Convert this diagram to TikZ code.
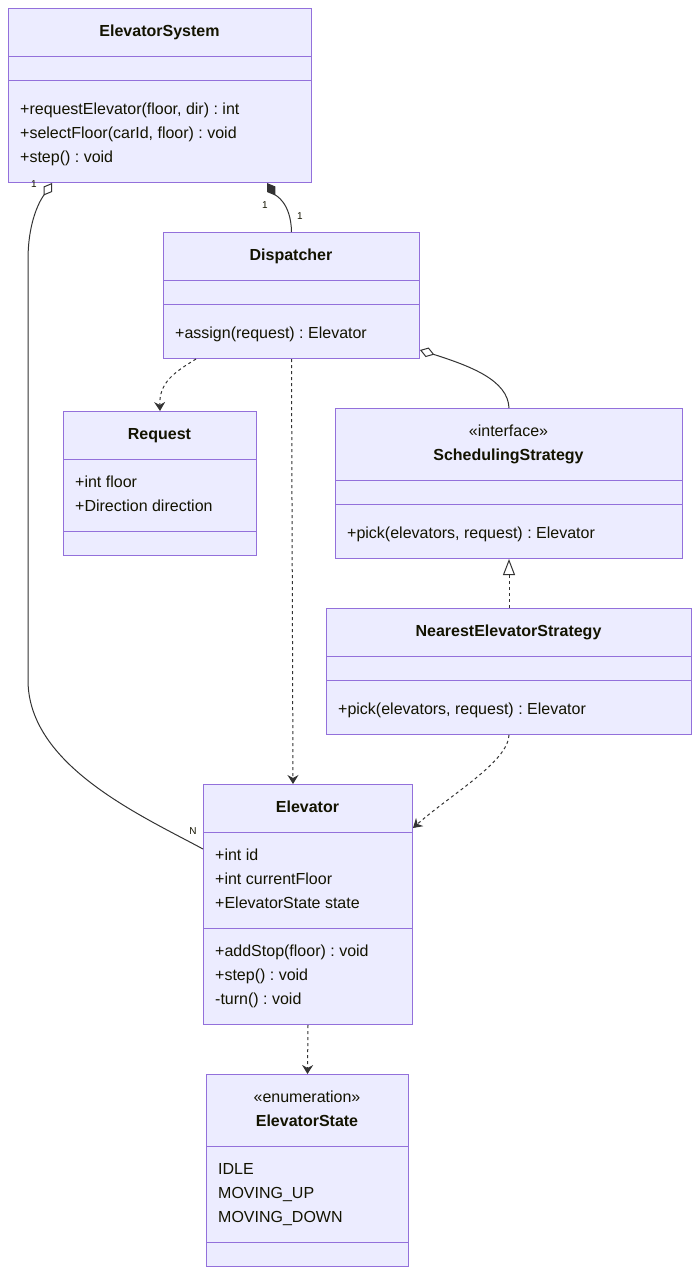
\documentclass[tikz,border=0pt]{standalone}
\usepackage{fontspec}
\setmainfont{Liberation Sans}
\usetikzlibrary{arrows.meta,positioning}
\definecolor{umlfill}{HTML}{ECECFF}
\definecolor{umlborder}{HTML}{9370DB}
\definecolor{umlline}{HTML}{333333}
\definecolor{umltext}{HTML}{131300}
\frenchspacing
\tikzset{
  classbox/.style={draw=umlborder, fill=umlfill, line width=1pt, inner sep=0pt, anchor=north west},
  divider/.style={draw=umlborder, line width=1pt},
  title/.style={font=\fontsize{16}{19}\selectfont\bfseries, text=umltext, inner sep=0pt,
    text height=12pt, text depth=3.5pt, yshift=-1.5pt},
  stereo/.style={text=umltext, inner sep=0pt, text height=12pt, text depth=3.5pt, yshift=-1.5pt},
  member/.style={anchor=west, text=umltext, inner sep=0pt, text height=12pt, text depth=3.5pt, yshift=-1.5pt},
  mult/.style={font=\fontsize{10}{12}\selectfont, text=umltext, inner sep=0pt},
  link/.style={draw=umlline, line width=1pt},
  dep/.style={link, dash pattern=on 3pt off 3pt, -{Stealth[length=9pt,width=11pt,inset=3pt]}},
  realize/.style={link, dash pattern=on 3pt off 3pt, -{Triangle[open, length=16pt, width=12pt, fill=white]}},
  aggr/.style={link, {Diamond[open, length=15pt, width=10pt, fill=white]}-},
  compo/.style={link, {Diamond[length=15pt, width=10pt]}-},
}

\begin{document}
\begin{tikzpicture}[x=1pt, y=-1pt, font=\fontsize{16}{19}\selectfont]
\useasboundingbox (0,0) rectangle (699,1274);

% --- ElevatorSystem ---
\node[classbox, minimum width=303pt, minimum height=174pt] (sys) at (8,8) {};
\draw[divider] (8,56) -- (311,56);
\draw[divider] (8,80) -- (311,80);
\node[title] (sysT) at (159.5,31) {ElevatorSystem};
\foreach \i/\y/\txt in {1/109/{+requestElevator(floor, dir) : int},
                       2/133/{+selectFloor(carId, floor) : void},
                       3/157/{+step() : void}}{
  \node[member] (sysM\i) at (20,\y) {\txt};
}

% --- Dispatcher ---
\node[classbox, minimum width=256pt, minimum height=126pt] (disp) at (163,232) {};
\draw[divider] (163,280) -- (419,280);
\draw[divider] (163,304) -- (419,304);
\node[title] (dispT) at (291,255) {Dispatcher};
\node[member] (dispM1) at (175,333) {+assign(request) : Elevator};

% --- Request ---
\node[classbox, minimum width=193pt, minimum height=144pt] (req) at (63,411) {};
\draw[divider] (63,459) -- (256,459);
\draw[divider] (63,531) -- (256,531);
\node[title] (reqT) at (159.5,434) {Request};
\foreach \i/\y/\txt in {1/482/{+int floor}, 2/506/{+Direction direction}}{
  \node[member] (reqA\i) at (75,\y) {\txt};
}

% --- SchedulingStrategy ---
\node[classbox, minimum width=347pt, minimum height=150pt] (sched) at (335,408) {};
\draw[divider] (335,480) -- (682,480);
\draw[divider] (335,504) -- (682,504);
\node[stereo] (schedS) at (508.5,431) {«interface»};
\node[title] (schedT) at (508.5,455) {SchedulingStrategy};
\node[member] (schedM1) at (347,533) {+pick(elevators, request) : Elevator};

% --- NearestElevatorStrategy ---
\node[classbox, minimum width=365pt, minimum height=126pt] (near) at (326,608) {};
\draw[divider] (326,656) -- (691,656);
\draw[divider] (326,680) -- (691,680);
\node[title] (nearT) at (508.5,631) {NearestElevatorStrategy};
\node[member] (nearM1) at (338,709) {+pick(elevators, request) : Elevator};

% --- Elevator ---
\node[classbox, minimum width=209pt, minimum height=240pt] (elev) at (203,784) {};
\draw[divider] (203,832) -- (412,832);
\draw[divider] (203,928) -- (412,928);
\node[title] (elevT) at (307.5,807) {Elevator};
\foreach \i/\y/\txt in {1/855/{+int id}, 2/879/{+int currentFloor}, 3/903/{+ElevatorState state}}{
  \node[member] (elevA\i) at (215,\y) {\txt};
}
\foreach \i/\y/\txt in {1/951/{+addStop(floor) : void}, 2/975/{+step() : void}, 3/999/{-turn() : void}}{
  \node[member] (elevM\i) at (215,\y) {\txt};
}

% --- ElevatorState ---
\node[classbox, minimum width=202pt, minimum height=192pt] (state) at (206,1074) {};
\draw[divider] (206,1146) -- (408,1146);
\draw[divider] (206,1242) -- (408,1242);
\node[stereo] (stateS) at (307,1097) {«enumeration»};
\node[title] (stateT) at (307,1121) {ElevatorState};
\foreach \i/\y/\txt in {1/1169/IDLE, 2/1193/MOVING\_UP, 3/1217/MOVING\_DOWN}{
  \node[member] (stateV\i) at (218,\y) {\txt};
}

% --- relations ---
\draw[aggr] ([xshift=44pt]sys.south west) .. controls (44,195) and (28,215) .. (28,260)
  -- (28,680) .. controls (28,765) and (140,815) .. ([yshift=-65pt]elev.north west);
\node[mult] (m1) at (34,184) {1};
\node[mult] (m2) at (193,831) {N};

\draw[compo] ([xshift=259pt]sys.south west) .. controls (275,195) and (291,202) .. (disp.north);
\node[mult] (m3) at (265,205) {1};
\node[mult] (m4) at (300,216) {1};

\draw[dep] ([xshift=33pt]disp.south west) .. controls (175,372) and (159,382) .. (req.north);
\draw[dep] (disp.south) -- ([xshift=90pt]elev.north west);
\draw[aggr] ([yshift=9pt]disp.south east) .. controls (470,366) and (508,380) .. (sched.north);
\draw[realize] (near.north) -- (sched.south);
\draw[dep] (near.south) .. controls (508,762) and (450,795) .. ([yshift=-44pt]elev.north east);
\draw[dep] (elev.south) -- (state.north);

\end{tikzpicture}
\end{document}
